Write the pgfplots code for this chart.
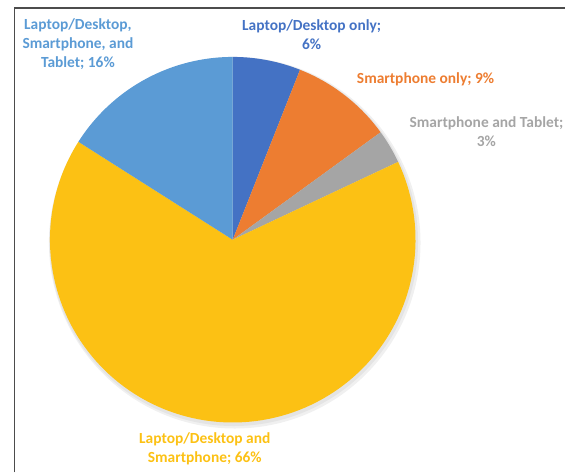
\documentclass[border=0pt]{standalone}
\usepackage{pgfplots}
\pgfplotsset{compat=1.18}
\usepackage{pgfplotstable}
\usepackage{fontspec}
\setmainfont{Carlito}
\definecolor{cA}{HTML}{4472C4}
\definecolor{cB}{HTML}{ED7D31}
\definecolor{cC}{HTML}{A5A5A5}
\definecolor{cD}{HTML}{FCC114}
\definecolor{cE}{HTML}{5B9BD5}
\pgfplotstableread{
start end
0 6
6 15
15 18
18 84
84 100
}\piedata
\newcommand{\pieslice}[3]{%
  \addplot[fill=#3, draw=none, domain=#1:#2, samples=120]
    ({233+183*cos(90-3.6*x)},{233+183*sin(90-3.6*x)}) -- (axis cs:233,233) -- cycle;
}
\begin{document}
\begin{tikzpicture}[x=1bp,y=1bp]
\begin{axis}[
  x=1bp, y=1bp,
  xmin=0, xmax=566, ymin=0, ymax=473,
  scale only axis, hide axis, clip=false,
]
\path (axis cs:0,0) rectangle (axis cs:566,473);
% frame
\draw[line width=1.3pt, gray!60!black] (axis cs:14.5,0) -- (axis cs:14.5,465) -- (axis cs:566,465);
% soft shadow
\fill[black, opacity=0.06] (axis cs:235,230) circle[radius=186bp];
\fill[black, opacity=0.05] (axis cs:234,231) circle[radius=184.5bp];
\pgfplotstablegetelem{0}{start}\of\piedata\let\sA\pgfplotsretval
\pgfplotstablegetelem{0}{end}\of\piedata\let\eA\pgfplotsretval
\pgfplotstablegetelem{1}{end}\of\piedata\let\eB\pgfplotsretval
\pgfplotstablegetelem{2}{end}\of\piedata\let\eC\pgfplotsretval
\pgfplotstablegetelem{3}{end}\of\piedata\let\eD\pgfplotsretval
\pgfplotstablegetelem{4}{end}\of\piedata\let\eE\pgfplotsretval
\pieslice{\sA}{\eA}{cA}
\pieslice{\eA}{\eB}{cB}
\pieslice{\eB}{\eC}{cC}
\pieslice{\eC}{\eD}{cD}
\pieslice{\eD}{\eE}{cE}
\tikzset{lbl/.style={align=center, font=\fontsize{15.5}{19}\selectfont\bfseries, inner sep=0pt}}
\node[lbl, text=cE] at (axis cs:78,429) {Laptop/Desktop,\\Smartphone, and\\Tablet; 16\%};
\node[lbl, text=cA] at (axis cs:312,438.5) {Laptop/Desktop only;\\6\%};
\node[lbl, text=cB] at (axis cs:426,394) {Smartphone only; 9\%};
\node[lbl, text=cC] at (axis cs:487,341.5) {Smartphone and Tablet;\\3\%};
\node[lbl, text=cD] at (axis cs:205,24) {Laptop/Desktop and\\Smartphone; 66\%};
\end{axis}
\end{tikzpicture}
\end{document}
